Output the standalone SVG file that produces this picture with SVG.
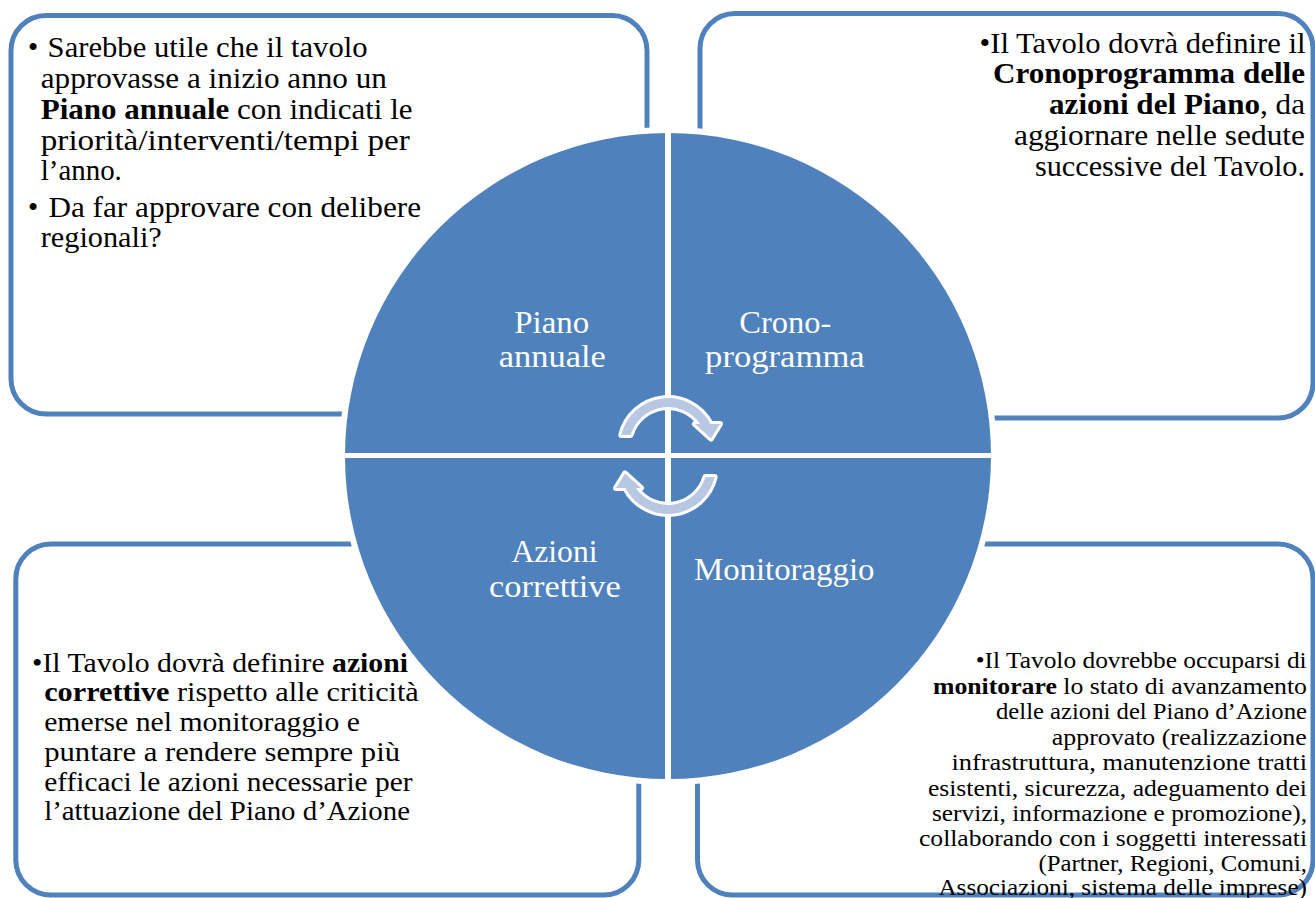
<svg xmlns="http://www.w3.org/2000/svg" width="1315" height="898" viewBox="0 0 1315 898">
<style>
.box{fill:#ffffff;stroke:#4F81BD;stroke-width:5}
.t{font-family:"Liberation Serif","Times New Roman",serif;font-size:29px;fill:#000}
.tm{font-family:"Liberation Serif","Times New Roman",serif;font-size:28px;fill:#000}
.ts{font-family:"Liberation Serif","Times New Roman",serif;font-size:23px;fill:#000}
.b{font-weight:bold}
.lbl{font-family:"Liberation Serif","Times New Roman",serif;font-size:32px;fill:#ffffff;text-anchor:middle}
.div{stroke:#ffffff}
.arrow{fill:#B8C7E2;stroke:#ffffff;stroke-width:6;stroke-linejoin:round;paint-order:stroke}
</style>
<defs>
<path id="cyc" class="arrow" d="M 621.3 435 A 48 48 0 0 1 710.6 424 L 720 424 L 711 438.5 L 695 424 L 700.2 424 A 39 39 0 0 0 630.6 435 Z"/>
</defs>
<rect width="1315" height="898" fill="#ffffff"/>

<g id="box-piano-annuale">
<rect class="box" x="11" y="15.5" width="636" height="398.5" rx="35"/>
<text class="t" x="28" y="57">•</text>
<text class="t" x="47.6" y="57" textLength="320" lengthAdjust="spacingAndGlyphs">Sarebbe utile che il tavolo</text>
<text class="t" x="40.8" y="87.5" textLength="346" lengthAdjust="spacingAndGlyphs">approvasse a inizio anno un</text>
<text class="t" x="40.8" y="118.5" textLength="371.7" lengthAdjust="spacingAndGlyphs"><tspan class="b">Piano annuale</tspan> con indicati le</text>
<text class="t" x="40.8" y="149.5" textLength="369" lengthAdjust="spacingAndGlyphs">priorità/interventi/tempi per</text>
<text class="t" x="40.8" y="180" textLength="81" lengthAdjust="spacingAndGlyphs">l’anno.</text>
<text class="t" x="28" y="216.7">•</text>
<text class="t" x="48.4" y="216.7" textLength="372.6" lengthAdjust="spacingAndGlyphs">Da far approvare con delibere</text>
<text class="t" x="40.8" y="246.7" textLength="121" lengthAdjust="spacingAndGlyphs">regionali?</text>
</g>

<g id="box-cronoprogramma">
<rect class="box" x="700" y="13.5" width="613" height="404.5" rx="35"/>
<text class="t" x="979.5" y="52.5" textLength="326" lengthAdjust="spacingAndGlyphs">•Il Tavolo dovrà definire il</text>
<text class="t b" x="993" y="83" textLength="312" lengthAdjust="spacingAndGlyphs">Cronoprogramma delle</text>
<text class="t" x="1049" y="113.5" textLength="256" lengthAdjust="spacingAndGlyphs"><tspan class="b">azioni del Piano</tspan>, da</text>
<text class="t" x="1014" y="144.5" textLength="291" lengthAdjust="spacingAndGlyphs">aggiornare nelle sedute</text>
<text class="t" x="1035" y="175.5" textLength="270" lengthAdjust="spacingAndGlyphs">successive del Tavolo.</text>
</g>

<g id="box-azioni-correttive">
<rect class="box" x="15.8" y="544" width="623" height="351" rx="35"/>
<text class="tm" x="32" y="671.7" textLength="376" lengthAdjust="spacingAndGlyphs">•Il Tavolo dovrà definire <tspan class="b">azioni</tspan></text>
<text class="tm" x="44.2" y="701" textLength="374.6" lengthAdjust="spacingAndGlyphs"><tspan class="b">correttive</tspan> rispetto alle criticità</text>
<text class="tm" x="44.2" y="731" textLength="315.8" lengthAdjust="spacingAndGlyphs">emerse nel monitoraggio e</text>
<text class="tm" x="44.2" y="761" textLength="355.8" lengthAdjust="spacingAndGlyphs">puntare a rendere sempre più</text>
<text class="tm" x="44.2" y="790.5" textLength="368.3" lengthAdjust="spacingAndGlyphs">efficaci le azioni necessarie per</text>
<text class="tm" x="44.2" y="820" textLength="365.8" lengthAdjust="spacingAndGlyphs">l’attuazione del Piano d’Azione</text>
</g>

<g id="box-monitoraggio">
<rect class="box" x="697.5" y="544" width="615.5" height="351" rx="35"/>
<text class="ts" x="975.7" y="668" textLength="331" lengthAdjust="spacingAndGlyphs">•Il Tavolo dovrebbe occuparsi di</text>
<text class="ts" x="933" y="693.5" textLength="374" lengthAdjust="spacingAndGlyphs"><tspan class="b">monitorare</tspan> lo stato di avanzamento</text>
<text class="ts" x="996" y="719" textLength="311" lengthAdjust="spacingAndGlyphs">delle azioni del Piano d’Azione</text>
<text class="ts" x="1051.8" y="744.5" textLength="255" lengthAdjust="spacingAndGlyphs">approvato (realizzazione</text>
<text class="ts" x="951.4" y="770" textLength="355.6" lengthAdjust="spacingAndGlyphs">infrastruttura, manutenzione tratti</text>
<text class="ts" x="927.9" y="795.5" textLength="379" lengthAdjust="spacingAndGlyphs">esistenti, sicurezza, adeguamento dei</text>
<text class="ts" x="932" y="821" textLength="375" lengthAdjust="spacingAndGlyphs">servizi, informazione e promozione),</text>
<text class="ts" x="919" y="846" textLength="388" lengthAdjust="spacingAndGlyphs">collaborando con i soggetti interessati</text>
<text class="ts" x="1038.4" y="870.5" textLength="268.6" lengthAdjust="spacingAndGlyphs">(Partner, Regioni, Comuni,</text>
<text class="ts" x="938.4" y="895" textLength="368.6" lengthAdjust="spacingAndGlyphs">Associazioni, sistema delle imprese)</text>
</g>

<g id="cycle">
<circle cx="668" cy="456" r="329" fill="#ffffff"/>
<circle cx="668" cy="456" r="323" fill="#4F81BD"/>
<line class="div" x1="668" y1="128" x2="668" y2="784" stroke-width="6"/>
<line class="div" x1="340" y1="455.5" x2="996" y2="455.5" stroke-width="5"/>
<g id="seg-piano">
<text class="lbl" x="551.8" y="333" textLength="75" lengthAdjust="spacingAndGlyphs">Piano</text>
<text class="lbl" x="552.3" y="367" textLength="107" lengthAdjust="spacingAndGlyphs">annuale</text>
</g>
<g id="seg-crono">
<text class="lbl" x="785.3" y="333" textLength="92" lengthAdjust="spacingAndGlyphs">Crono-</text>
<text class="lbl" x="784.9" y="366.7" textLength="159.6" lengthAdjust="spacingAndGlyphs">programma</text>
</g>
<g id="seg-azioni">
<text class="lbl" x="554.5" y="561.7" textLength="86" lengthAdjust="spacingAndGlyphs">Azioni</text>
<text class="lbl" x="554.9" y="596.7" textLength="131.7" lengthAdjust="spacingAndGlyphs">correttive</text>
</g>
<g id="seg-monitoraggio">
<text class="lbl" x="784.2" y="580" textLength="180.4" lengthAdjust="spacingAndGlyphs">Monitoraggio</text>
</g>
</g>

<g id="connectors">
<use href="#cyc"/>
<use href="#cyc" transform="rotate(180 668 456)"/>
</g>
</svg>
